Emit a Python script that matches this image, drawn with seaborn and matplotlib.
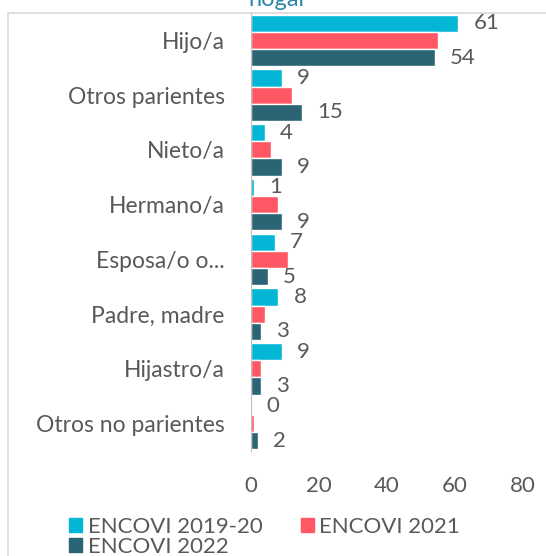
import pandas as pd
import seaborn as sns
import matplotlib.pyplot as plt
from matplotlib.patches import Rectangle, Patch

# datos
categorias = ['Hijo/a', 'Otros parientes', 'Nieto/a', 'Hermano/a',
              'Esposa/o o...', 'Padre, madre', 'Hijastro/a', 'Otros no parientes']
series = ['ENCOVI 2019-20', 'ENCOVI 2021', 'ENCOVI 2022']
encovi_2019 = [61, 9, 4, 1, 7, 8, 9, 0]
encovi_2021 = [55, 12, 6, 8, 11, 4, 3, 1]
encovi_2022 = [54, 15, 9, 9, 5, 3, 3, 2]
xticks = [0, 20, 40, 60, 80]

colores = ['#03B6D5', '#FF5864', '#2A6475']
gris = '#595959'

df = pd.DataFrame({
    'categoria': categorias * 3,
    'valor': encovi_2019 + encovi_2021 + encovi_2022,
    'serie': [series[0]] * 8 + [series[1]] * 8 + [series[2]] * 8,
})

sns.set_style('white')
plt.rcParams['font.family'] = ['Lato', 'DejaVu Sans']

fig = plt.figure(figsize=(5.46, 5.56), dpi=100)
ax = fig.add_axes([251 / 546, 1 - 451 / 556, 272 / 546, 438 / 556])

sns.barplot(data=df, y='categoria', x='valor', hue='serie', orient='h',
            palette=colores, width=0.94, saturation=1, legend=False, ax=ax)

# etiquetas solo para 2019-20 y 2022
for i in (0, 2):
    ax.bar_label(ax.containers[i], padding=11, fontsize=16, color=gris)

ax.set_xlim(0, 80)
ax.set_ylim(7.5, -0.5)
ax.set_xticks(xticks)
ax.set_xlabel('')
ax.set_ylabel('')
ax.tick_params(axis='x', length=0, pad=18, labelsize=16, labelcolor=gris)
ax.tick_params(axis='y', length=0, pad=19, labelsize=16.5, labelcolor=gris)
for s in ['top', 'right', 'bottom']:
    ax.spines[s].set_visible(False)
ax.spines['left'].set_color('#BFBFBF')

# marco y titulo recortado
fig.add_artist(Rectangle((8 / 546, -0.1), 1.2, 1.1 - 13 / 556, transform=fig.transFigure,
                         fill=False, ec='#D9D9D9', lw=1.2))
fig.text(248 / 546, 1 - 6 / 556, 'hogar', color='#2E86AB', fontsize=17, va='baseline')

handles = [Patch(color=c, label=s) for c, s in zip(colores, series)]
orden = [0, 2, 1]
fig.legend([handles[i] for i in orden], [series[i] for i in orden],
           loc='upper left', bbox_to_anchor=(58 / 546, 1 - 506 / 556), ncol=2,
           frameon=False, fontsize=16, labelcolor=gris, handlelength=0.6,
           handleheight=0.6, handletextpad=0.25, columnspacing=1.7,
           labelspacing=0.0, borderpad=0)

fig.savefig('out.png', dpi=100)
